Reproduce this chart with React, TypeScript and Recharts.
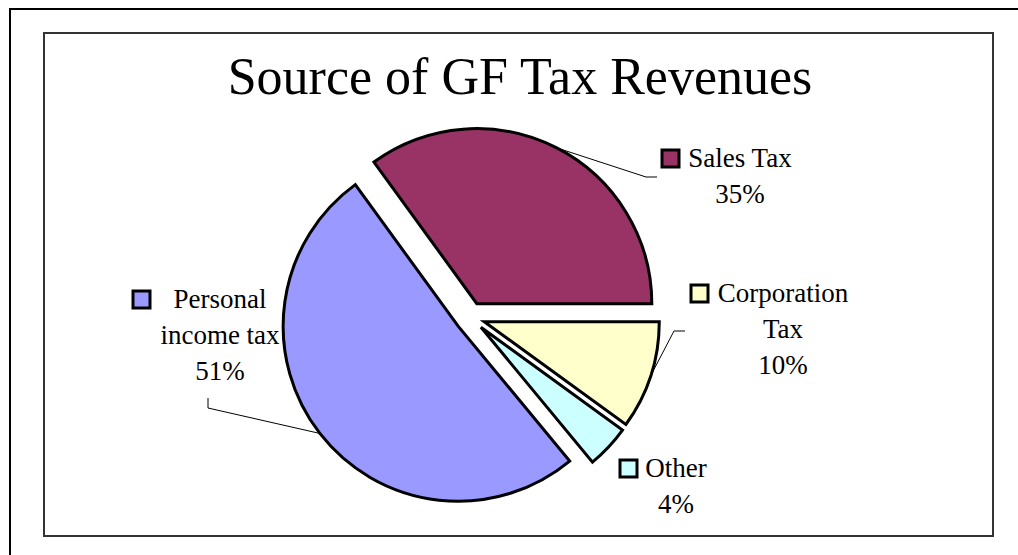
import { PieChart, Pie, Sector } from 'recharts';

const categories = ['Sales Tax', 'Personal income tax', 'Other', 'Corporation Tax'];
const shares = [35, 51, 4, 10];
const colors = ['#993366', '#9999FF', '#CCFFFF', '#FFFFCC'];
// how each label wraps
const labelLines = [['Sales Tax'], ['Personal', 'income tax'], ['Other'], ['Corporation', 'Tax']];

// label placement in page px (text centre, first baseline, key offset, leader elbow/end)
const labelPos = [
  { x: 740, y: 167, keyDx: -78, leader: [[646, 177], [657, 177]] },
  { x: 220, y: 308, keyDx: -87, leader: [[208, 408], [208, 398]] },
  { x: 676, y: 477, keyDx: -56, leader: null },
  { x: 783, y: 302, keyDx: -92, leader: [[674, 331], [685, 331]] },
];

const data = categories.map((name, i) => ({ name, value: shares[i] }));

const W = 1018;
const H = 555;
const EXPLODE = 15;
const RAD = Math.PI / 180;
const FONT = '"Liberation Serif", "Times New Roman", serif';
const LINE_H = 36;

// draws the exploded slice plus its data label
const renderSlice = (props: any) => {
  const { cx, cy, outerRadius, startAngle, endAngle, index, percent } = props;
  const mid = (startAngle + endAngle) / 2;
  const ox = cx + EXPLODE * Math.cos(-mid * RAD);
  const oy = cy + EXPLODE * Math.sin(-mid * RAD);
  const pos = labelPos[index];
  const lines = [...labelLines[index], `${Math.round(percent * 100)}%`];
  const ax = ox + outerRadius * Math.cos(-mid * RAD);
  const ay = oy + outerRadius * Math.sin(-mid * RAD);

  return (
    <g>
      <Sector
        cx={ox}
        cy={oy}
        innerRadius={0}
        outerRadius={outerRadius}
        startAngle={startAngle}
        endAngle={endAngle}
        fill={colors[index]}
        stroke="#000"
        strokeWidth={3}
        strokeLinejoin="miter"
      />
      {pos.leader && (
        <polyline
          points={`${ax},${ay} ${pos.leader.map((p) => p.join(',')).join(' ')}`}
          fill="none"
          stroke="#000"
          strokeWidth={1}
        />
      )}
      <rect
        x={pos.x + pos.keyDx}
        y={pos.y - 17}
        width={17}
        height={17}
        fill={colors[index]}
        stroke="#000"
        strokeWidth={3}
      />
      {lines.map((t, i) => (
        <text
          key={i}
          x={pos.x}
          y={pos.y + i * LINE_H}
          textAnchor="middle"
          fontFamily={FONT}
          fontSize={27}
          fill="#000"
        >
          {t}
        </text>
      ))}
    </g>
  );
};

export default function App() {
  return (
    <div style={{ position: 'fixed', left: 0, top: 0, width: W, height: H, background: '#fff' }}>
      <svg width={W} height={H} style={{ position: 'absolute', left: 0, top: 0 }}>
        <line x1={9} y1={9} x2={W} y2={9} stroke="#000" strokeWidth={2} />
        <line x1={10} y1={8} x2={10} y2={H} stroke="#000" strokeWidth={2} />
        <rect x={44} y={33} width={949} height={503} fill="none" stroke="#333" strokeWidth={2} />
        <text x={520} y={94} textAnchor="middle" fontFamily={FONT} fontSize={52} fill="#000">
          Source of GF Tax Revenues
        </text>
      </svg>
      <div style={{ position: 'absolute', left: 0, top: 0 }}>
        <PieChart width={W} height={H} margin={{ top: 0, right: 0, bottom: 0, left: 0 }}>
          <Pie
            data={data}
            dataKey="value"
            nameKey="name"
            cx={470}
            cy={317}
            outerRadius={175}
            startAngle={0}
            endAngle={360}
            fill="none"
            stroke="none"
            label={renderSlice}
            labelLine={false}
            isAnimationActive={false}
          />
        </PieChart>
      </div>
    </div>
  );
}
